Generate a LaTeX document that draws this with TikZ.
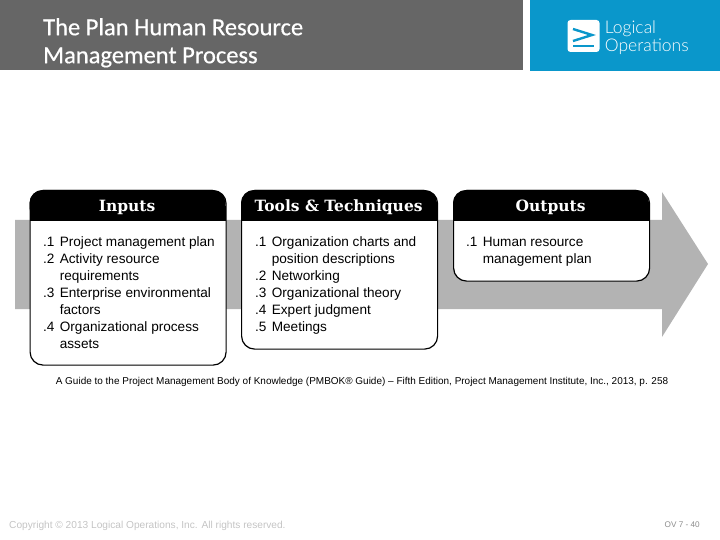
\documentclass[tikz,border=0pt]{standalone}
\usepackage{fontspec}
\setmainfont{Liberation Sans}
\newfontfamily\titlefont[FakeBold=0.5]{Carlito}
\newfontfamily\headfont{DejaVu Serif}
\newfontfamily\logofont{Lato Light}
\usetikzlibrary{positioning}

\definecolor{bandgray}{HTML}{666666}
\definecolor{logoblue}{HTML}{0A97CB}
\definecolor{arrowgray}{HTML}{B3B3B3}
\definecolor{footgray}{HTML}{C4C4C4}

\newcommand{\boxhead}[2]{%
    \fill [rounded corners=13pt] (#1.north west) -- ++(0,31) -- ++(196,0) -- ++(0,-31) -- cycle;
    \fill (#1.north west) ++(0,16) rectangle ++(196,15);
    \node [headtext] at ([xshift=-1pt,yshift=-17pt]#1.north) {#2};
}

\begin{document}
\begin{tikzpicture}[x=1pt,y=-1pt,
    headtext/.style={text=white,font=\headfont\bfseries\fontsize{15.5}{18}\selectfont},
    listbox/.style={draw=black,line width=1.2pt,fill=white,rounded corners=13pt,minimum width=196pt,anchor=north west,inner sep=0pt},
    listtext/.style={anchor=north west,inner sep=0pt,align=left,font=\fontsize{13.6}{17}\selectfont},
    bandtitle/.style={anchor=north west,inner sep=0pt,align=left,text=white,font=\titlefont\fontsize{24.5}{28}\selectfont}]
    \useasboundingbox (0,0) rectangle (720,540);

    % top bands
    \node (band) [fill=bandgray,minimum width=523pt,minimum height=70pt,anchor=north west,inner sep=0pt] at (0,0) {};
    \node (logoband) [fill=logoblue,minimum width=190pt,minimum height=71pt,anchor=north west,inner sep=0pt] at (530,0) {};
    \node (title) [bandtitle] at (43,18) {The Plan Human Resource\\Management Process};

    % logo
    \node (logomark) [fill=white,rounded corners=3pt,minimum width=32pt,minimum height=32pt,inner sep=0pt] at (583.5,36) {};
    \draw [logoblue,line width=2.4pt] (573,29) -- (592,35) -- (573,41);
    \draw [logoblue,line width=2.4pt] (573,46) -- (594,46);
    \node (logotext) [right=5pt of logomark,yshift=-1.5pt,inner sep=0pt,align=left,text=white,font=\logofont\fontsize{17.5}{17.5}\selectfont] {Logical\\Operations};

    % big arrow behind the boxes
    \fill [arrowgray] (15,220) -- (662,220) -- (662,192) -- (708,264) -- (662,337) -- (662,309) -- (15,309) -- cycle;

    % boxes
    \node (inputs) [listbox,minimum height=174.5pt] at (29.5,190) {};
    \boxhead{inputs}{Inputs}
    \node (inputslist) [listtext] at (43,234) {%
        \begin{tabular}{@{}l@{\hspace{5.3pt}}l@{}}
        .1 & Project management plan\\
        .2 & Activity resource\\
           & requirements\\
        .3 & Enterprise environmental\\
           & factors\\
        .4 & Organizational process\\
           & assets
        \end{tabular}};

    \node (tools) [listbox,minimum height=158.5pt] at (241,190) {};
    \boxhead{tools}{Tools \& Techniques}
    \node (toolslist) [listtext] at (255,234) {%
        \begin{tabular}{@{}l@{\hspace{5.3pt}}l@{}}
        .1 & Organization charts and\\
           & position descriptions\\
        .2 & Networking\\
        .3 & Organizational theory\\
        .4 & Expert judgment\\
        .5 & Meetings
        \end{tabular}};

    \node (outputs) [listbox,minimum height=90.5pt] at (453,190) {};
    \boxhead{outputs}{Outputs}
    \node (outputslist) [listtext] at (466,234) {%
        \begin{tabular}{@{}l@{\hspace{5.3pt}}l@{}}
        .1 & Human resource\\
           & management plan
        \end{tabular}};

    % source line and footer
    \node (source) [inner sep=0pt,font=\fontsize{9.98}{12}\selectfont] at (362,382) {A Guide to the Project Management Body of Knowledge (PMBOK® Guide) – Fifth Edition, Project Management Institute, Inc., 2013, p. 258};
    \node (copyright) [anchor=west,inner sep=0pt,text=footgray,font=\fontsize{10.15}{12}\selectfont] at (9,526) {Copyright © 2013 Logical Operations, Inc. All rights reserved.};
    \node (pagenum) [anchor=east,inner sep=0pt,text=black!45,font=\fontsize{8.2}{10}\selectfont] at (700,525) {OV 7 - 40};
\end{tikzpicture}
\end{document}
